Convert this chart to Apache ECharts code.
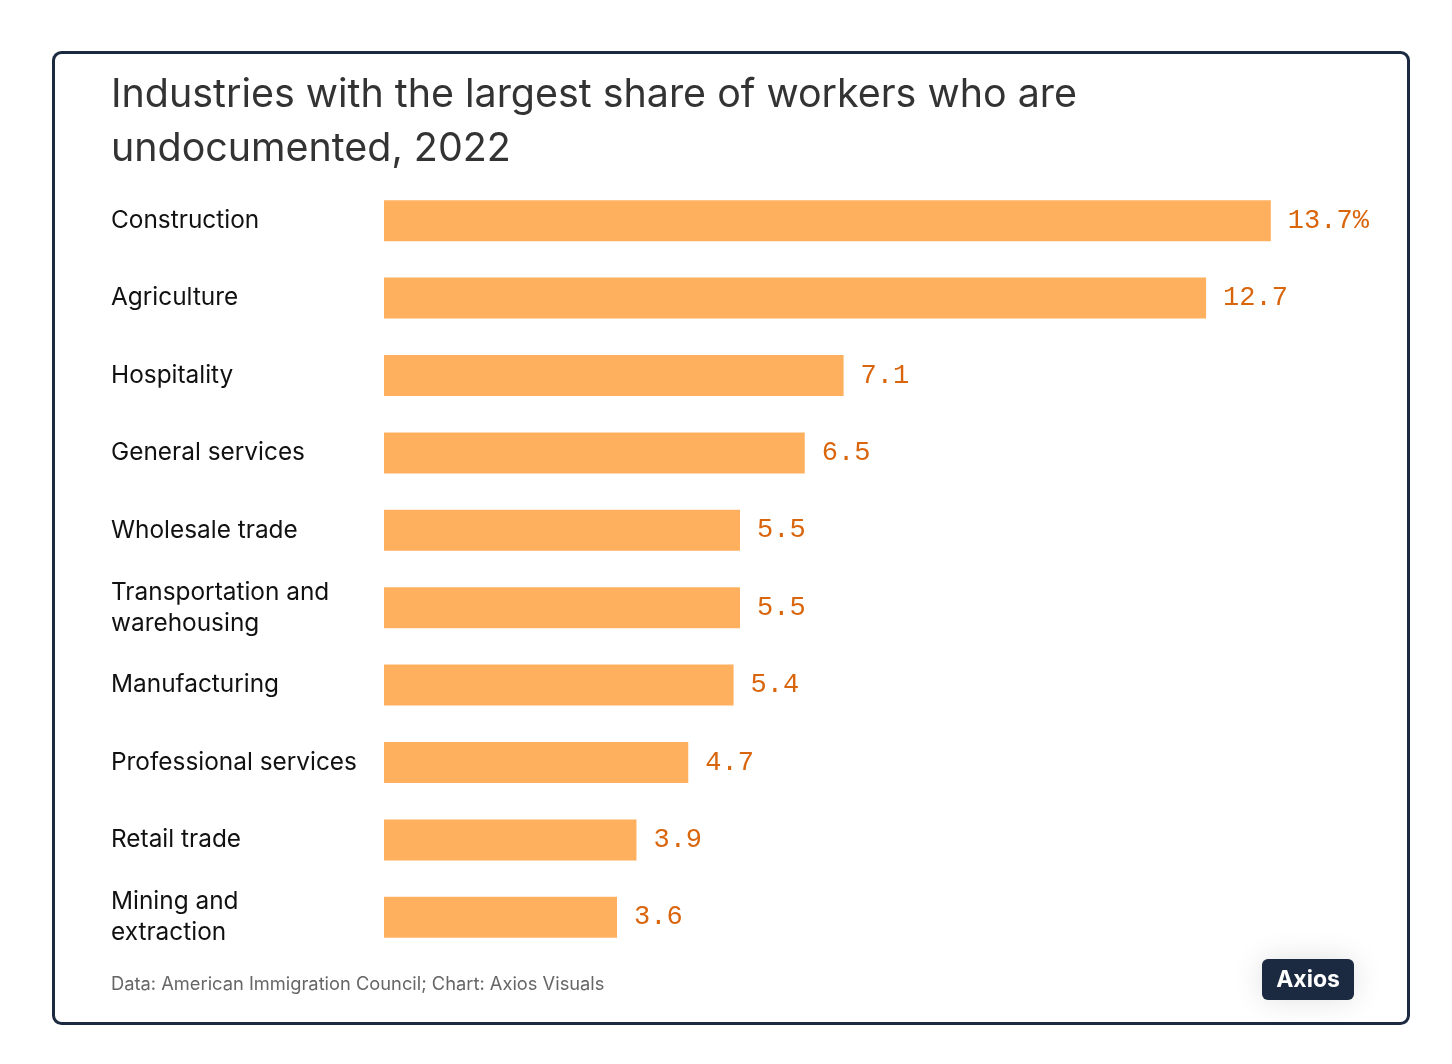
<!DOCTYPE html>
<html><head><meta charset="utf-8">
<script src="https://cdn.jsdelivr.net/npm/echarts@6/dist/echarts.min.js"></script>
<style>html,body{margin:0;padding:0;background:#fff}#c{width:1452px;height:1064px}</style>
</head><body><div id="c"></div>
<script>
const categories = ["Construction","Agriculture","Hospitality","General services","Wholesale trade","Transportation and\nwarehousing","Manufacturing","Professional services","Retail trade","Mining and\nextraction"];
const values = [13.7,12.7,7.1,6.5,5.5,5.5,5.4,4.7,3.9,3.6];
const titleText = "Industries with the largest share of workers who are\nundocumented, 2022";
const sourceText = "Data: American Immigration Council; Chart: Axios Visuals";

const chart = echarts.init(document.getElementById('c'));
chart.setOption({
  animation:false,
  backgroundColor:'#fff',
  title:{text:titleText,left:111,top:68,padding:0,textStyle:{fontFamily:'Inter',fontSize:39.4,fontWeight:'normal',color:'#333',lineHeight:54}},
  grid:{left:384,right:97,top:182,bottom:108,containLabel:false},
  xAxis:{type:'value',min:0,max:15,show:false},
  yAxis:{type:'category',data:categories,inverse:true,axisLine:{show:false},axisTick:{show:false},
    axisLabel:{align:'left',margin:273,fontFamily:'Inter',fontSize:24.4,color:'#111',lineHeight:31}},
  series:[{type:'bar',data:values,barWidth:'53%',itemStyle:{color:'#ffb05f'},
    label:{show:true,position:'right',distance:17,fontFamily:'Liberation Mono',fontSize:27,color:'#d9650c',
      formatter:p=>p.dataIndex===0?p.value.toFixed(1)+'%':p.value.toFixed(1)}}],
  graphic:[
    {type:'rect',shape:{x:53.5,y:52.5,width:1355,height:971,r:8},style:{fill:'none',stroke:'#1b2a40',lineWidth:3},z:-1},
    {type:'text',left:111,top:976,style:{text:sourceText,fontFamily:'Inter',fontSize:18.3,fill:'#666'}},
    {type:'rect',shape:{x:1262,y:959,width:92,height:41,r:6},style:{fill:'#1b2a40',shadowBlur:30,shadowColor:'rgba(0,0,0,0.12)'}},
    {type:'text',x:1308,y:980,style:{text:'Axios',fontFamily:'Inter',fontWeight:'bold',fontSize:23,fill:'#fff',align:'center',verticalAlign:'middle'}}
  ]
});
</script></body></html>
